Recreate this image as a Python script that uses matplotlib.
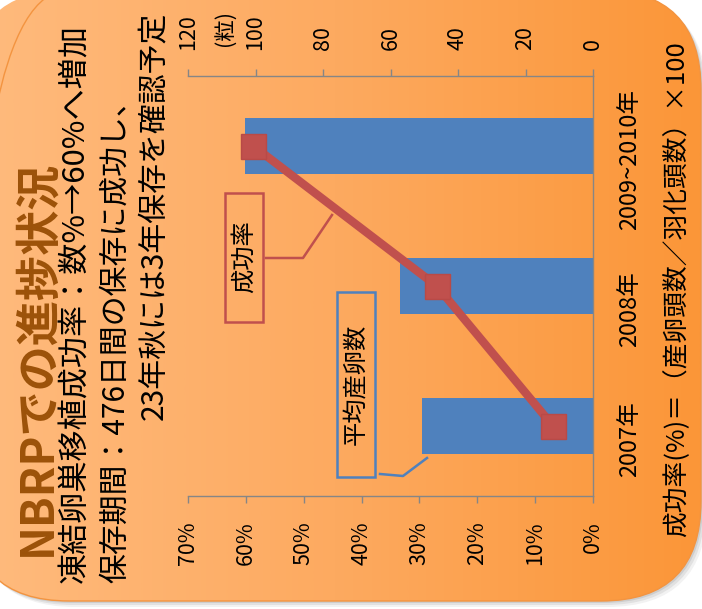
import numpy as np
import matplotlib
matplotlib.use('Agg')
import matplotlib.pyplot as plt
from matplotlib.patches import FancyBboxPatch, Rectangle
from matplotlib.transforms import ScaledTranslation
from matplotlib.colors import LinearSegmentedColormap

plt.rcParams['font.family'] = ['Noto Sans CJK JP', 'DejaVu Sans']

# ---------------- data ----------------
categories = ['2007年', '2008年', '2009~2010年']
egg_counts = [50.7, 57.2, 103.1]          # 平均産卵数 (粒)
success_rate = [0.069, 0.270, 0.587]      # 成功率
count_ticks = [0, 20, 40, 60, 80, 100, 120]
count_labels = ['0', '20', '40', '60', '80', '100', '120']
pct_ticks = [0.0, 0.1, 0.2, 0.3, 0.4, 0.5, 0.6, 0.7]
pct_labels = ['0%', '10%', '20%', '30%', '40%', '50%', '60%', '70%']

title = 'NBRPでの進捗状況'
sub1 = '凍結卵巣移植成功率：数%→60%へ増加'
sub2 = '保存期間：476日間の保存に成功し、'
sub3 = '23年秋には3年保存を確認予定'
formula = '成功率(%)＝（産卵頭数／羽化頭数）×100'

W, H = 702, 609
fig = plt.figure(figsize=(W / 100, H / 100), dpi=100)
fig.patch.set_facecolor('white')

# ---------------- background shape ----------------
bg = fig.add_axes([0, 0, 1, 1], zorder=0)
bg.set_xlim(0, W)
bg.set_ylim(H, 0)
bg.axis('off')
for off, a in [(6, 0.10), (4, 0.15), (2, 0.2)]:
    bg.add_patch(FancyBboxPatch((-31 + off, -10 + off), 732, 611,
                                boxstyle='round,pad=0,rounding_size=100',
                                facecolor='#808080', edgecolor='none', alpha=a, zorder=0.1))
shape = FancyBboxPatch((-31, -10), 732, 611, boxstyle='round,pad=0,rounding_size=100',
                       facecolor='none', edgecolor='#f39440', lw=1.0, zorder=2)
bg.add_patch(shape)
cmap = LinearSegmentedColormap.from_list('bgg', ['#ffbb7e', '#fdaa60', '#fb9638'])
grad = np.linspace(0, 1, 512).reshape(1, -1)
im = bg.imshow(grad, cmap=cmap, extent=[-31, 701, 601, -10], aspect='auto', zorder=1)
im.set_clip_path(shape)

# ---------------- chart ----------------
ax = fig.add_axes([188 / W, (H - 496) / H, 405 / W, 420 / H], zorder=1)
ax.patch.set_visible(False)
ypos = np.arange(len(categories)) + 0.5
ax.barh(ypos, egg_counts, height=0.4, color='#4f81bd', zorder=2)
ax.set_xlim(120, 0)
ax.set_ylim(0, 3)

ax2 = ax.twiny()
ax2.set_zorder(2)
ax2.patch.set_visible(False)
ax2.plot(success_rate, ypos, color='#c0504d', lw=6, marker='s', ms=18,
         markerfacecolor='#c0504d', markeredgecolor='#b84a47', solid_capstyle='butt')
ax2.set_xlim(0.7, 0)
ax2.xaxis.set_ticks_position('bottom')
ax2.xaxis.set_label_position('bottom')
ax2.set_xticks(pct_ticks)
ax2.set_xticklabels(pct_labels, rotation=90)
ax2.tick_params(axis='x', length=5, width=1, color='#868686', pad=13, labelsize=15.5)
for s in ax2.spines.values():
    s.set_visible(False)

ax.xaxis.set_ticks_position('top')
ax.xaxis.set_label_position('top')
ax.set_xticks(count_ticks)
ax.set_xticklabels(count_labels, rotation=90)
ax.yaxis.tick_right()
ax.set_yticks(ypos)
ax.set_yticklabels(categories, rotation=90, va='center')
ax.tick_params(axis='x', length=5, width=1, color='#868686', pad=14, labelsize=15.5)
ax.tick_params(axis='y', length=0, pad=18, labelsize=17)
for s in ['top', 'bottom', 'right']:
    ax.spines[s].set_color('#868686')
    ax.spines[s].set_linewidth(1)
ax.spines['left'].set_visible(False)
for lab, off in zip(ax.get_yticklabels(), [13, 23, 14]):
    lab.set_transform(lab.get_transform() + ScaledTranslation(0, -off / 100, fig.dpi_scale_trans))

# ---------------- overlay: texts & callouts ----------------
ov = fig.add_axes([0, 0, 1, 1], zorder=3)
ov.set_xlim(0, W)
ov.set_ylim(H, 0)
ov.axis('off')
ov.patch.set_visible(False)

ov.text(37, 556, title, rotation=90, ha='center', va='bottom', fontsize=32.5,
        fontweight='bold', color='#9c5209')
ov.text(76, 583, sub1, rotation=90, ha='center', va='bottom', fontsize=22.4)
ov.text(115, 583, sub2, rotation=90, ha='center', va='bottom', fontsize=21.5)
ov.text(155, 12, sub3, rotation=90, ha='center', va='top', fontsize=21.5)
ov.text(677, 537, formula, rotation=90, ha='center', va='bottom', fontsize=18.5)
ov.text(226, 28, '(粒)', rotation=90, ha='center', va='center', fontsize=15.5)

# callout: 成功率
ov.add_patch(Rectangle((225, 193), 38, 129, facecolor='none', edgecolor='#c0504d', lw=1.8))
ov.plot([266, 303, 332], [258, 258, 215], color='#c0504d', lw=1.8)
ov.text(244, 257, '成功率', rotation=90, ha='center', va='center', fontsize=17.5)

# callout: 平均産卵数
ov.add_patch(Rectangle((337, 292), 38, 185, facecolor='none', edgecolor='#4f81bd', lw=1.8))
ov.plot([380, 403, 427], [474, 476, 458], color='#4f81bd', lw=1.8)
ov.text(356, 384, '平均産卵数', rotation=90, ha='center', va='center', fontsize=17.5)

fig.savefig('out.png', dpi=100)
